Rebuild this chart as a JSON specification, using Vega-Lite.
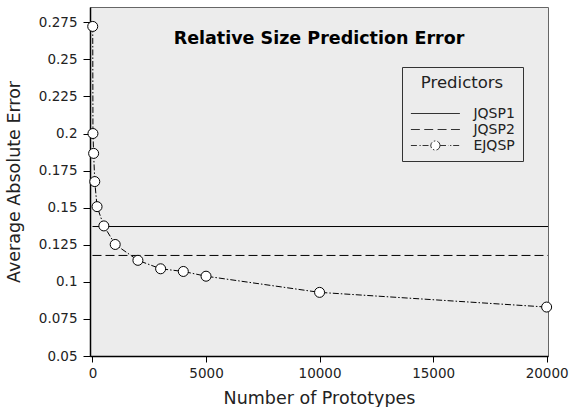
{
  "$schema": "https://vega.github.io/schema/vega-lite/v6.json",
  "width": 458,
  "height": 349,
  "autosize": "none",
  "padding": {"left": 90, "top": 7, "right": 21, "bottom": 51},
  "background": "white",
  "config": {
    "font": "DejaVu Sans",
    "view": {"fill": "#ececec", "stroke": "#666666", "strokeWidth": 1}
  },
  "title": {
    "text": "Relative Size Prediction Error",
    "font": "DejaVu Sans",
    "fontSize": 17.5,
    "fontWeight": "bold",
    "color": "black",
    "anchor": "middle",
    "baseline": "alphabetic",
    "offset": -54
  },
  "datasets": {
    "lines": [
      {"prototypes": 0, "error": 0.1373, "predictor": "JQSP1"},
      {"prototypes": 20060, "error": 0.1373, "predictor": "JQSP1"},
      {"prototypes": 0, "error": 0.1178, "predictor": "JQSP2"},
      {"prototypes": 20060, "error": 0.1178, "predictor": "JQSP2"},
      {"prototypes": 10, "error": 0.2722, "predictor": "EJQSP"},
      {"prototypes": 20, "error": 0.2, "predictor": "EJQSP"},
      {"prototypes": 50, "error": 0.1866, "predictor": "EJQSP"},
      {"prototypes": 100, "error": 0.1676, "predictor": "EJQSP"},
      {"prototypes": 200, "error": 0.1507, "predictor": "EJQSP"},
      {"prototypes": 500, "error": 0.1377, "predictor": "EJQSP"},
      {"prototypes": 1000, "error": 0.1252, "predictor": "EJQSP"},
      {"prototypes": 2000, "error": 0.1145, "predictor": "EJQSP"},
      {"prototypes": 3000, "error": 0.1088, "predictor": "EJQSP"},
      {"prototypes": 4000, "error": 0.107, "predictor": "EJQSP"},
      {"prototypes": 5000, "error": 0.1038, "predictor": "EJQSP"},
      {"prototypes": 10000, "error": 0.0929, "predictor": "EJQSP"},
      {"prototypes": 20000, "error": 0.083, "predictor": "EJQSP"}
    ]
  },
  "data": {"name": "lines"},
  "encoding": {
    "x": {
      "field": "prototypes",
      "type": "quantitative",
      "scale": {"domain": [-110, 20060], "nice": false, "zero": false},
      "axis": {
        "title": "Number of Prototypes",
        "values": [0, 5000, 10000, 15000, 20000],
        "format": "d",
        "grid": false,
        "domainColor": "black",
        "domainWidth": 1.5,
        "tickColor": "black",
        "tickSize": 6,
        "labelFontSize": 13.5,
        "labelColor": "#222222",
        "labelPadding": 4,
        "titleFontSize": 17.5,
        "titleFontWeight": "normal",
        "titleColor": "#222222",
        "titlePadding": 10
      }
    },
    "y": {
      "field": "error",
      "type": "quantitative",
      "scale": {"domain": [0.05, 0.2853], "nice": false, "zero": false},
      "axis": {
        "title": "Average Absolute Error",
        "values": [0.05, 0.075, 0.1, 0.125, 0.15, 0.175, 0.2, 0.225, 0.25, 0.275],
        "format": ".3~f",
        "grid": false,
        "domainColor": "black",
        "domainWidth": 1.5,
        "tickColor": "black",
        "tickSize": 7,
        "labelFontSize": 13.5,
        "labelColor": "#222222",
        "labelPadding": 6,
        "titleFontSize": 17.5,
        "titleFontWeight": "normal",
        "titleColor": "#222222",
        "titlePadding": 15
      }
    }
  },
  "layer": [
    {
      "mark": {"type": "line", "color": "black", "strokeWidth": 1},
      "encoding": {
        "detail": {"field": "predictor"},
        "strokeDash": {
          "field": "predictor",
          "type": "nominal",
          "scale": {
            "domain": ["JQSP1", "JQSP2", "EJQSP"],
            "range": [[30000, 0], [9, 4], [6, 2, 1.5, 2]]
          },
          "legend": {
            "title": "Predictors",
            "orient": "none",
            "legendX": 312,
            "legendY": 60,
            "direction": "vertical",
            "symbolType": "M-4,0H4",
            "symbolSize": 150,
            "symbolOffset": 18.4,
            "symbolStrokeColor": "#333333",
            "symbolStrokeWidth": 1,
            "symbolFillColor": "white",
            "labelFontSize": 14,
            "labelColor": "#222222",
            "labelOffset": 31,
            "titleFontSize": 16.5,
            "titleFontWeight": "normal",
            "titleColor": "#222222",
            "titleAnchor": "middle",
            "titleAlign": "center",
            "titlePadding": 15,
            "rowPadding": 2,
            "padding": 8,
            "strokeColor": "#333333",
            "fillColor": "#ececec",
            "encode": {
              "symbols": {
                "update": {
                  "shape": {"signal": "datum.value === 'EJQSP' ? 'M-4,0H-2.9M-2.6,0H-2.4M-2.1,0H-0.75M0.75,0H2.1M2.4,0H2.6M2.9,0H4M0.75,0A0.75,0.75,0,1,1,-0.75,0A0.75,0.75,0,1,1,0.75,0' : datum.value === 'JQSP2' ? 'M-4,0H-2.54M-1.82,0H-0.36M0.36,0H1.82M2.54,0H4' : 'M-4,0H4'"},
                  "strokeDash": {"value": [30000, 0]},
                  "fill": {"value": "white"},
                  "stroke": {"value": "#333333"}
                }
              }
            }
          }
        }
      }
    },
    {
      "transform": [{"filter": "datum.predictor === 'EJQSP'"}],
      "mark": {"type": "point", "shape": "circle", "filled": true, "fill": "white", "stroke": "black", "strokeWidth": 1, "size": 100, "opacity": 1}
    }
  ]
}
